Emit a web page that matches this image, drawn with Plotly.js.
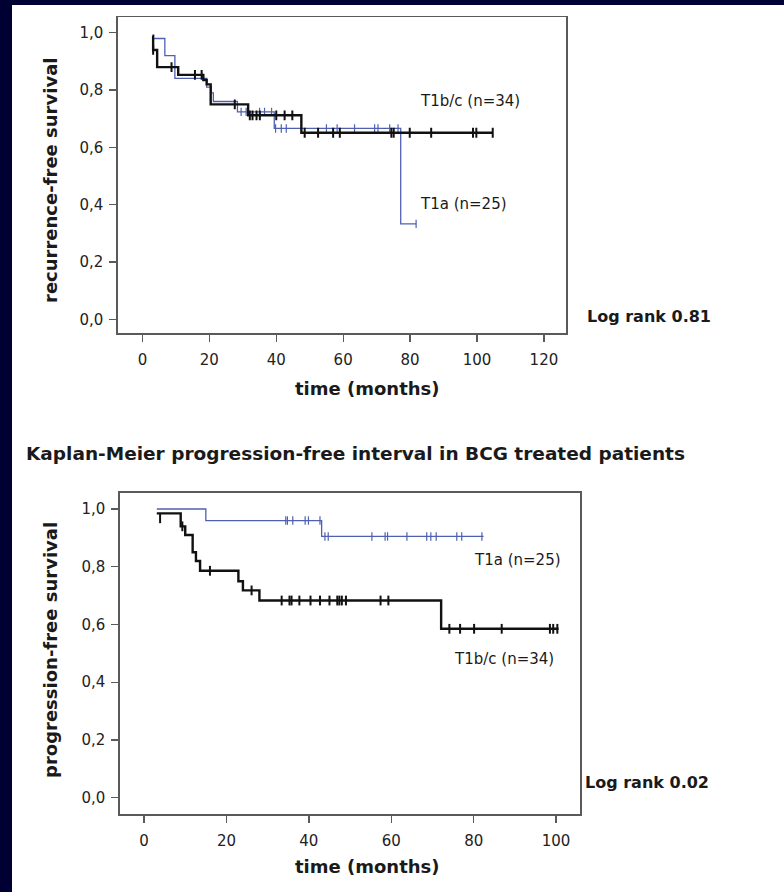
<!DOCTYPE html>
<html>
<head>
<meta charset="utf-8">
<script src="https://cdn.plot.ly/plotly-3.0.1.min.js"></script>
<style>
  html, body { margin: 0; padding: 0; background: #000033; width: 784px; height: 892px; overflow: hidden; }
  #chart { position: absolute; left: 12px; top: 5px; width: 772px; height: 887px; background: #ffffff; }
</style>
</head>
<body>
<div id="chart"></div>
<script>
// ---------- DATA ----------
// Top: recurrence-free survival
const rfsT1bcTime = [3.0, 3.2, 4.4, 10.7, 18.2, 19.2, 20.4, 31.6, 47.5, 104.7];
const rfsT1bcSurv = [0.99, 0.94, 0.88, 0.853, 0.835, 0.82, 0.75, 0.712, 0.651, 0.651];
const rfsT1aTime  = [3.5, 6.7, 9.7, 19.2, 20.6, 21.2, 28.4, 39.4, 77.2, 81.8];
const rfsT1aSurv  = [0.98, 0.92, 0.841, 0.81, 0.79, 0.76, 0.724, 0.666, 0.333, 0.333];
const rfsT1bcCensTime = [3.2, 8.7, 15.7, 17.7, 27.6, 32.1, 32.9, 34.1, 35.1, 40.0, 42.5, 44.8, 48.5, 52.5, 57.0, 59.0, 74.4, 75.1, 79.9, 86.3, 98.8, 99.8, 104.7];
const rfsT1bcCensSurv = [0.94, 0.88, 0.853, 0.853, 0.75, 0.712, 0.712, 0.712, 0.712, 0.712, 0.712, 0.712, 0.651, 0.651, 0.651, 0.651, 0.651, 0.651, 0.651, 0.651, 0.651, 0.651, 0.651];
const rfsT1aCensTime = [29.5, 31.0, 35.0, 36.5, 38.6, 39.8, 41.5, 43.0, 55.0, 58.2, 63.4, 69.4, 70.4, 73.9, 76.4, 81.8];
const rfsT1aCensSurv = [0.724, 0.724, 0.724, 0.724, 0.724, 0.666, 0.666, 0.666, 0.666, 0.666, 0.666, 0.666, 0.666, 0.666, 0.666, 0.333];

// Bottom: progression-free survival
const pfsT1aTime  = [3.1, 15.0, 43.1, 82.4];
const pfsT1aSurv  = [1.0, 0.96, 0.905, 0.905];
const pfsT1bcTime = [3.1, 8.9, 10.0, 11.8, 12.6, 13.6, 22.9, 24.0, 28.0, 72.1, 100.6];
const pfsT1bcSurv = [0.985, 0.94, 0.91, 0.85, 0.82, 0.786, 0.75, 0.718, 0.683, 0.585, 0.585];
const pfsT1aCensTime = [34.4, 34.8, 36.1, 39.1, 39.9, 42.7, 43.9, 44.7, 55.3, 58.5, 59.1, 63.8, 68.6, 69.6, 70.9, 75.9, 77.1, 82.0];
const pfsT1aCensSurv = [0.96, 0.96, 0.96, 0.96, 0.96, 0.96, 0.905, 0.905, 0.905, 0.905, 0.905, 0.905, 0.905, 0.905, 0.905, 0.905, 0.905, 0.905];
const pfsT1bcCensTime = [3.9, 9.3, 16.0, 26.1, 33.4, 35.3, 35.8, 37.7, 40.4, 42.7, 45.0, 46.9, 47.4, 48.0, 49.0, 57.4, 59.3, 74.1, 76.7, 80.1, 86.8, 98.5, 99.3, 100.3];
const pfsT1bcCensSurv = [0.968, 0.94, 0.786, 0.718, 0.683, 0.683, 0.683, 0.683, 0.683, 0.683, 0.683, 0.683, 0.683, 0.683, 0.683, 0.683, 0.683, 0.585, 0.585, 0.585, 0.585, 0.585, 0.585, 0.585];

const xTicksTop = [0, 20, 40, 60, 80, 100, 120];
const xTicksBottom = [0, 20, 40, 60, 80, 100];
const yTicks = [0, 0.2, 0.4, 0.6, 0.8, 1.0];

const labelT1bc = 'T1b/c (n=34)';
const labelT1a = 'T1a (n=25)';
const logRankTop = 'Log rank 0.81';
const logRankBottom = 'Log rank 0.02';
const midTitle = 'Kaplan-Meier progression-free interval in BCG treated patients';
const xTitle = 'time (months)';
const yTitleTop = 'recurrence-free survival';
const yTitleBottom = 'progression-free survival';

// ---------- LAYOUT HELPERS (pixel -> paper) ----------
const W = 772, H = 887, OX = 12, OY = 5;
const fx = px => (px - OX) / W;
const fy = py => 1 - (py - OY) / H;

const BLACK = '#111111';
const BLUE = '#4f60b0';
const FRAME = '#5a5a5a';
const FONT = 'DejaVu Sans';

function stepTrace(x, y, color, width, xa, ya) {
  return { x, y, type: 'scatter', mode: 'lines', line: { shape: 'hv', color, width },
           xaxis: xa, yaxis: ya, hoverinfo: 'skip', showlegend: false };
}
function censTrace(x, y, color, size, width, xa, ya) {
  return { x, y, type: 'scatter', mode: 'markers',
           marker: { symbol: 'line-ns', size, color, line: { color, width } },
           xaxis: xa, yaxis: ya, hoverinfo: 'skip', showlegend: false };
}

const traces = [
  stepTrace(rfsT1aTime, rfsT1aSurv, BLUE, 1.3, 'x', 'y'),
  censTrace(rfsT1aCensTime, rfsT1aCensSurv, BLUE, 6, 1.2, 'x', 'y'),
  stepTrace(rfsT1bcTime, rfsT1bcSurv, BLACK, 2.4, 'x', 'y'),
  censTrace(rfsT1bcCensTime, rfsT1bcCensSurv, BLACK, 7, 2, 'x', 'y'),
  stepTrace(pfsT1aTime, pfsT1aSurv, BLUE, 1.3, 'x2', 'y2'),
  censTrace(pfsT1aCensTime, pfsT1aCensSurv, BLUE, 6, 1.2, 'x2', 'y2'),
  stepTrace(pfsT1bcTime, pfsT1bcSurv, BLACK, 2.4, 'x2', 'y2'),
  censTrace(pfsT1bcCensTime, pfsT1bcCensSurv, BLACK, 7, 2, 'x2', 'y2'),
];

const axisCommon = {
  showline: true, mirror: true, linecolor: FRAME, linewidth: 1.6,
  ticks: 'outside', ticklen: 7, tickwidth: 1.3, tickcolor: FRAME,
  showgrid: false, zeroline: false, fixedrange: true,
  tickfont: { family: FONT, size: 15, color: '#222222' }
};

function ann(text, px, py, size, bold, xanchor, extra) {
  return Object.assign({
    text: bold ? '<b>' + text + '</b>' : text,
    xref: 'paper', yref: 'paper', x: fx(px), y: fy(py),
    xanchor: xanchor || 'left', yanchor: 'middle', showarrow: false,
    font: { family: FONT, size, color: '#1a1a1a' }
  }, extra || {});
}

const layout = {
  width: W, height: H,
  margin: { l: 0, r: 0, t: 0, b: 0, pad: 0 },
  paper_bgcolor: '#ffffff', plot_bgcolor: '#ffffff',
  separators: ', ',
  showlegend: false,
  xaxis: Object.assign({}, axisCommon, {
    domain: [fx(118), fx(566)], range: [-7.3, 126.6],
    tickvals: xTicksTop, ticklabelstandoff: 5, anchor: 'y'
  }),
  yaxis: Object.assign({}, axisCommon, {
    domain: [fy(333), fy(17.3)], range: [-0.048, 1.054],
    tickvals: yTicks, tickformat: '.1f', ticklabelstandoff: 3, anchor: 'x'
  }),
  xaxis2: Object.assign({}, axisCommon, {
    domain: [fx(120), fx(580)], range: [-5.83, 105.8],
    tickvals: xTicksBottom, ticklabelstandoff: 5, anchor: 'y2'
  }),
  yaxis2: Object.assign({}, axisCommon, {
    domain: [fy(814), fy(492.7)], range: [-0.0565, 1.0565],
    tickvals: yTicks, tickformat: '.1f', ticklabelstandoff: 3, anchor: 'x2'
  }),
  annotations: [
    ann(labelT1bc, 418, 101, 15, false),
    ann(labelT1a, 418, 204, 15, false),
    ann(logRankTop, 585, 316, 16, true),
    ann(xTitle, 367, 388, 18, true, 'center'),
    ann(yTitleTop, 50, 181, 18, true, 'center', { textangle: -90 }),
    ann(midTitle, 24, 454, 18.5, true),
    ann(labelT1a, 472, 560, 15, false),
    ann(labelT1bc, 452, 659, 15, false),
    ann(logRankBottom, 583, 782, 16, true),
    ann(xTitle, 367, 866, 18, true, 'center'),
    ann(yTitleBottom, 50, 650, 18, true, 'center', { textangle: -90 }),
  ]
};

Plotly.newPlot('chart', traces, layout, { staticPlot: true, displayModeBar: false });
</script>
</body>
</html>
